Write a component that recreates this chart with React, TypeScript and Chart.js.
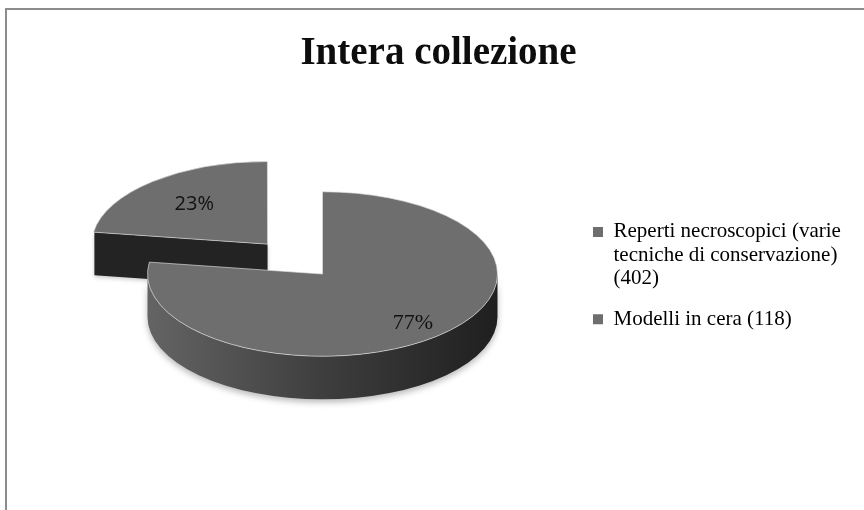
import React, { useEffect, useRef } from 'react';
import { Chart, registerables } from 'chart.js';

Chart.register(...registerables);

// ---- data ----
const categories = ['Reperti necroscopici (varie tecniche di conservazione)', 'Modelli in cera'];
const counts = [402, 118];
const explodeOffsets = [0, 336];
const chartTitle = 'Intera collezione';

// ---- styles ----
const TOP_GREY = '#6e6e6e';
const SERIF = "'Liberation Serif', 'Times New Roman', serif";
const LEGEND_SIZE = 21;

function wrapText(ctx: CanvasRenderingContext2D, text: string, maxW: number): string[] {
  const words = text.split(' ');
  const lines: string[] = [];
  let cur = '';
  for (const w of words) {
    const t = cur ? cur + ' ' + w : w;
    if (cur && ctx.measureText(t).width > maxW) {
      lines.push(cur);
      cur = w;
    } else {
      cur = t;
    }
  }
  if (cur) lines.push(cur);
  return lines;
}

function arcsReady(arcs: any[]) {
  return (
    arcs.length > 0 &&
    arcs.every(
      (a) => Number.isFinite(a.x) && Number.isFinite(a.y) && Number.isFinite(a.outerRadius) && Number.isFinite(a.startAngle) && Number.isFinite(a.endAngle)
    )
  );
}

const pie3d = {
  id: 'pie3d',
  afterLayout(chart: any) {
    // let the legend text run to the canvas edge instead of being clipped at the legend box
    const lg = chart.legend;
    if (lg) {
      lg.right = chart.width;
      lg.width = lg.right - lg.left;
    }
  },
  beforeDatasetsDraw(chart: any, _args: any, opts: any) {
    const meta = chart.getDatasetMeta(0);
    const arcs = meta.data as any[];
    (chart as any).$pie3dSaved = false;
    if (!arcsReady(arcs)) return;
    const ctx: CanvasRenderingContext2D = chart.ctx;
    const k = opts.tilt;
    const D = opts.depth;
    const cy0 = arcs[0].y;
    const geo = arcs.map((arc: any) => {
      const h = (arc.startAngle + arc.endAngle) / 2;
      const tr = (arc.options.offset || 0) / 4;
      return {
        cx: arc.x + Math.cos(h) * tr,
        cy: cy0 + k * (arc.y - cy0 + Math.sin(h) * tr),
        s: arc.startAngle,
        e: arc.endAngle,
        R: arc.outerRadius,
      };
    });
    const order = geo.map((_g: any, i: number) => i).sort((a: number, b: number) => geo[a].cy - geo[b].cy);
    for (const i of order) {
      const g = geo[i];
      const face = (a: number) => {
        const px = g.cx + g.R * Math.cos(a);
        const py = g.cy + k * g.R * Math.sin(a);
        ctx.beginPath();
        ctx.moveTo(g.cx, g.cy);
        ctx.lineTo(px, py);
        ctx.lineTo(px, py + D);
        ctx.lineTo(g.cx, g.cy + D);
        ctx.closePath();
        ctx.fill();
      };
      ctx.save();
      ctx.fillStyle = opts.faceColor;
      ctx.shadowColor = 'rgba(0,0,0,0.2)';
      ctx.shadowBlur = 4;
      ctx.shadowOffsetY = 2;
      if (Math.cos(g.s) < -1e-3) face(g.s);
      if (Math.cos(g.e) > 1e-3) face(g.e);
      ctx.restore();
      for (const base of [-2 * Math.PI, 0, 2 * Math.PI]) {
        const a1 = Math.max(g.s, base);
        const b1 = Math.min(g.e, base + Math.PI);
        if (b1 <= a1) continue;
        ctx.save();
        const grad = ctx.createLinearGradient(g.cx - g.R, 0, g.cx + g.R, 0);
        grad.addColorStop(0, opts.sideLight);
        grad.addColorStop(0.5, opts.sideMid);
        grad.addColorStop(1, opts.sideDark);
        ctx.fillStyle = grad;
        ctx.shadowColor = 'rgba(0,0,0,0.28)';
        ctx.shadowBlur = 6;
        ctx.shadowOffsetY = 3;
        ctx.beginPath();
        ctx.ellipse(g.cx, g.cy, g.R, k * g.R, 0, a1, b1, false);
        ctx.ellipse(g.cx, g.cy + D, g.R, k * g.R, 0, b1, a1, true);
        ctx.closePath();
        ctx.fill();
        ctx.restore();
      }
    }
    ctx.save();
    ctx.translate(0, cy0);
    ctx.scale(1, k);
    ctx.translate(0, -cy0);
    (chart as any).$pie3dSaved = true;
  },
  afterDatasetsDraw(chart: any, _args: any, opts: any) {
    if (!(chart as any).$pie3dSaved) return;
    (chart as any).$pie3dSaved = false;
    const meta = chart.getDatasetMeta(0);
    const arcs = meta.data as any[];
    const ctx: CanvasRenderingContext2D = chart.ctx;
    ctx.restore();
    const k = opts.tilt;
    const cy0 = arcs[0].y;
    const values = chart.data.datasets[0].data as number[];
    const total = values.reduce((a, b) => a + b, 0);
    arcs.forEach((arc: any, i: number) => {
      const h = (arc.startAngle + arc.endAngle) / 2;
      const tr = (arc.options.offset || 0) / 4;
      const r = tr + arc.outerRadius * opts.labelRadius[i];
      const x = arc.x + Math.cos(h) * r;
      const y = cy0 + k * (arc.y - cy0 + Math.sin(h) * r);
      ctx.save();
      ctx.font = opts.labelFonts[i];
      ctx.fillStyle = '#111111';
      ctx.textAlign = 'center';
      ctx.textBaseline = 'middle';
      ctx.fillText(Math.round((values[i] / total) * 100) + '%', x, y);
      ctx.restore();
    });
  },
};

export default function App() {
  const canvasRef = useRef<HTMLCanvasElement | null>(null);

  useEffect(() => {
    if (!canvasRef.current) return;
    const chart = new Chart(canvasRef.current, {
      type: 'pie',
      data: {
        labels: categories.map((c, i) => `${c} (${counts[i]})`),
        datasets: [
          {
            data: counts,
            backgroundColor: TOP_GREY,
            borderColor: 'rgba(225,225,225,0.85)',
            borderWidth: 1,
            offset: explodeOffsets,
            clip: false as any,
          } as any,
        ],
      },
      options: {
        responsive: true,
        maintainAspectRatio: false,
        animation: false,
        events: [],
        radius: 175,
        cutout: '0%',
        layout: { padding: { left: 70, right: 57, top: 0, bottom: 160.2 } },
        plugins: {
          tooltip: { enabled: false },
          title: {
            display: true,
            text: chartTitle,
            color: '#0d0d0d',
            font: { family: SERIF, size: 39, weight: 'bold', lineHeight: 1.2 },
            padding: { top: 31, bottom: 120.4 },
          },
          legend: {
            position: 'right',
            align: 'end',
            maxWidth: 232,
            labels: {
              color: '#1a1a1a',
              font: { family: SERIF, size: LEGEND_SIZE, lineHeight: 1.1 },
              boxWidth: 10,
              boxHeight: 10,
              padding: 18,
              generateLabels: (ch: any) => {
                const ctx: CanvasRenderingContext2D = ch.ctx;
                ctx.save();
                ctx.font = `${LEGEND_SIZE}px ${SERIF}`;
                const items = (ch.data.labels as string[]).map((lab, i) => ({
                  text: wrapText(ctx, lab, 238),
                  fillStyle: TOP_GREY,
                  strokeStyle: TOP_GREY,
                  lineWidth: 0,
                  hidden: false,
                  index: i,
                }));
                ctx.restore();
                return items;
              },
            },
          },
          pie3d: {
            tilt: 0.47,
            depth: 43,
            faceColor: '#232323',
            sideLight: '#646464',
            sideMid: '#3e3e3e',
            sideDark: '#1f1f1f',
            labelRadius: [0.79, 0.64],
            labelFonts: [`22px ${SERIF}`, "20px 'Open Sans', 'DejaVu Sans', sans-serif"],
          },
        } as any,
      } as any,
      plugins: [pie3d as any],
    });
    return () => chart.destroy();
  }, []);

  return (
    <div style={{ position: 'fixed', left: 0, top: 0, width: 864, height: 510, background: '#ffffff', overflow: 'hidden' }}>
      <div
        style={{
          position: 'absolute',
          left: 5,
          top: 8,
          width: 859,
          height: 502,
          boxSizing: 'border-box',
          borderTop: '2px solid #8c8c8c',
          borderLeft: '2px solid #8c8c8c',
        }}
      />
      <div style={{ position: 'absolute', left: 0, top: 0, width: 864, height: 510 }}>
        <canvas ref={canvasRef} />
      </div>
    </div>
  );
}
